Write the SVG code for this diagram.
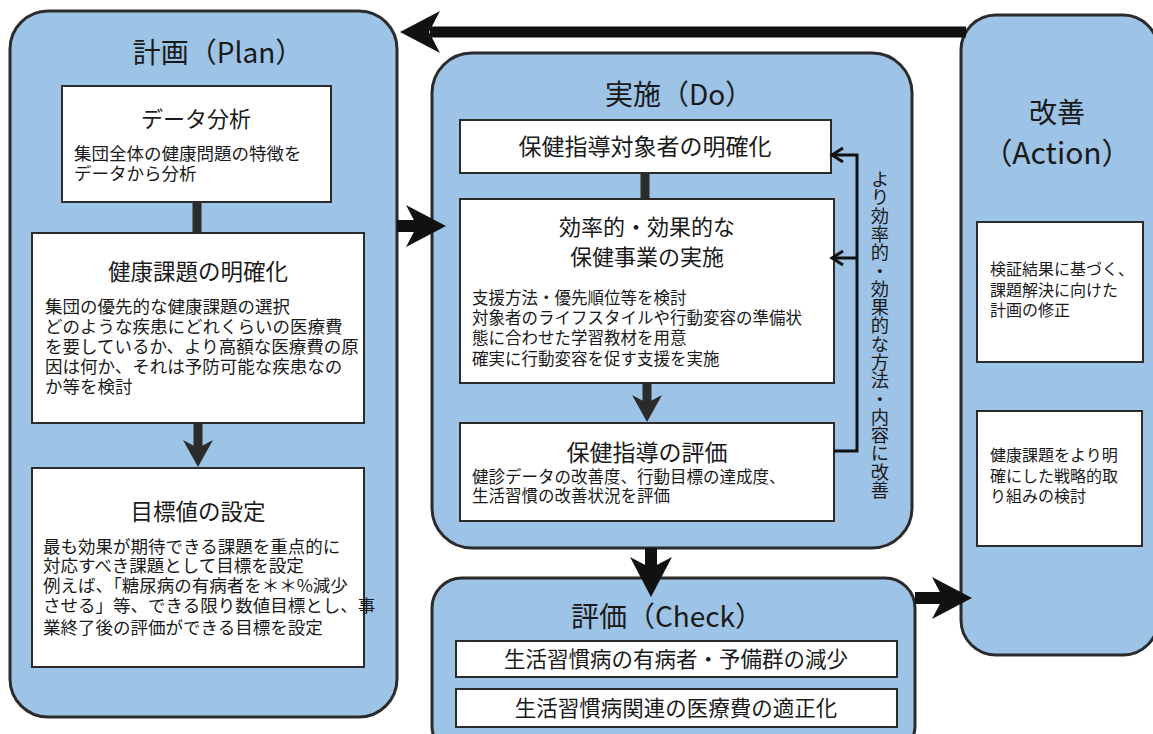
<svg xmlns="http://www.w3.org/2000/svg" xmlns:xlink="http://www.w3.org/1999/xlink" width="1153" height="734" viewBox="0 0 1153 734">
<style>
  text { font-family: "Noto Sans CJK JP", "Noto Sans", sans-serif; fill: #1a1a1a; }
  .phase { fill: #9dc3e6; stroke: #2b2b2b; stroke-width: 3; }
  .box { fill: #ffffff; stroke: #2b2b2b; stroke-width: 2; }
  .ptitle { font-size: 28px; text-anchor: middle; }
  .btitle { font-size: 22px; text-anchor: middle; }
  .body { font-size: 17.5px; }
  .bodys { font-size: 16.5px; }
  .abody { font-size: 16px; }
  .ctext { font-size: 21.5px; text-anchor: middle; }
  .link { stroke: #2b2b2b; stroke-width: 9; fill: none; }
  .big { stroke: #111111; stroke-width: 12; fill: none; }
  .fb { stroke: #111111; stroke-width: 3; fill: none; }
  .head { fill: #111111; }
  .shead { fill: #2b2b2b; }
  .vtext { font-size: 18.3px; writing-mode: vertical-rl; }
</style>
<defs>
  <path id="bighead" d="M0,0 L-40,-21 L-29,0 L-40,21 Z"/>
  <path id="smallhead" d="M0,0 L-27,-15 L-19,0 L-27,15 Z"/>
</defs>

<g id="plan">
  <rect class="phase" x="10" y="11" width="387" height="706" rx="38"/>
  <text class="ptitle" x="218" y="63">計画（Plan）</text>
</g>
<g id="data-analysis">
  <rect class="box" x="62" y="86" width="269" height="116"/>
  <text class="btitle" x="196" y="127">データ分析</text>
  <text class="body" x="74" y="160">集団全体の健康問題の特徴を</text>
  <text class="body" x="74" y="180">データから分析</text>
</g>
<g id="health-issue">
  <rect class="box" x="32" y="233" width="332" height="190"/>
  <text class="btitle" x="198" y="280" style="font-size:22.5px">健康課題の明確化</text>
  <text class="body" x="45" y="313">集団の優先的な健康課題の選択</text>
  <text class="body" x="45" y="333">どのような疾患にどれくらいの医療費</text>
  <text class="body" x="45" y="353">を要しているか、より高額な医療費の原</text>
  <text class="body" x="45" y="373">因は何か、それは予防可能な疾患なの</text>
  <text class="body" x="45" y="393">か等を検討</text>
</g>
<g id="target-setting">
  <rect class="box" x="32" y="468" width="332" height="199"/>
  <text class="btitle" x="198" y="520" style="font-size:22.5px">目標値の設定</text>
  <text class="body" x="43" y="553">最も効果が期待できる課題を重点的に</text>
  <text class="body" x="43" y="572">対応すべき課題として目標を設定</text>
  <text class="body" x="43" y="592">例えば、「糖尿病の有病者を＊＊%減少</text>
  <text class="body" x="43" y="612">させる」等、できる限り数値目標とし、事</text>
  <text class="body" x="43" y="634">業終了後の評価ができる目標を設定</text>
</g>

<g id="do">
  <rect class="phase" x="432" y="53" width="480" height="495" rx="40"/>
  <text class="ptitle" x="679" y="105">実施（Do）</text>
</g>
<g id="target-persons">
  <rect class="box" x="460" y="120" width="371" height="53"/>
  <text class="btitle" x="645" y="155" style="font-size:23px">保健指導対象者の明確化</text>
</g>
<g id="implementation">
  <rect class="box" x="460" y="199" width="374" height="184"/>
  <text class="btitle" x="647" y="235">効率的・効果的な</text>
  <text class="btitle" x="647" y="265">保健事業の実施</text>
  <text class="bodys" x="472" y="304">支援方法・優先順位等を検討</text>
  <text class="bodys" x="472" y="324">対象者のライフスタイルや行動変容の準備状</text>
  <text class="bodys" x="472" y="344">態に合わせた学習教材を用意</text>
  <text class="bodys" x="472" y="365">確実に行動変容を促す支援を実施</text>
</g>
<g id="guidance-eval">
  <rect class="box" x="460" y="423" width="374" height="98"/>
  <text class="btitle" x="647" y="461" style="font-size:23px">保健指導の評価</text>
  <text class="bodys" x="472" y="483">健診データの改善度、行動目標の達成度、</text>
  <text class="bodys" x="472" y="502">生活習慣の改善状況を評価</text>
</g>
<g id="improve-label">
  <text class="vtext" x="880" y="170">より効率的・効果的な方法・内容に改善</text>
</g>

<g id="check">
  <rect class="phase" x="432" y="578" width="483" height="178" rx="30"/>
  <text class="ptitle" x="667" y="627">評価（Check）</text>
</g>
<g id="check-1">
  <rect class="box" x="456" y="641" width="441" height="36"/>
  <text class="ctext" x="676" y="667">生活習慣病の有病者・予備群の減少</text>
</g>
<g id="check-2">
  <rect class="box" x="456" y="689" width="441" height="38"/>
  <text class="ctext" x="676" y="716">生活習慣病関連の医療費の適正化</text>
</g>

<g id="action">
  <rect class="phase" x="961" y="15" width="197" height="640" rx="35"/>
  <text class="ptitle" x="1057" y="123">改善</text>
  <text class="ptitle" x="1057" y="164" style="font-size:30px">（Action）</text>
</g>
<g id="action-1">
  <rect class="box" x="977" y="222" width="166" height="140"/>
  <text class="abody" x="990" y="275">検証結果に基づく、</text>
  <text class="abody" x="990" y="296">課題解決に向けた</text>
  <text class="abody" x="990" y="316">計画の修正</text>
</g>
<g id="action-2">
  <rect class="box" x="977" y="411" width="165" height="135"/>
  <text class="abody" x="990" y="461">健康課題をより明</text>
  <text class="abody" x="990" y="482">確にした戦略的取</text>
  <text class="abody" x="990" y="502">り組みの検討</text>
</g>

<g id="connectors">
  <line class="link" x1="197" y1="202" x2="197" y2="233"/>
  <line class="link" x1="198" y1="423" x2="198" y2="450"/>
  <use href="#smallhead" class="shead" transform="translate(198,467) rotate(90)"/>
  <line class="link" x1="645" y1="173" x2="645" y2="199"/>
  <line class="link" x1="647" y1="383" x2="647" y2="405"/>
  <use href="#smallhead" class="shead" transform="translate(647,422) rotate(90)"/>

  <path class="fb" d="M834,451 H857 V155 H833"/>
  <line class="fb" x1="857" y1="258" x2="833" y2="258"/>
  <path class="fb" d="M843,148 L832,155 L843,162"/>
  <path class="fb" d="M843,251 L832,258 L843,265"/>

  <line class="big" x1="966" y1="32" x2="430" y2="32" style="stroke-width:11"/>
  <use href="#bighead" class="head" transform="translate(400,32) rotate(180)"/>

  <line class="big" x1="397" y1="226" x2="420" y2="226"/>
  <use href="#bighead" class="head" transform="translate(446,226)"/>

  <line class="big" x1="651" y1="548" x2="651" y2="572"/>
  <use href="#bighead" class="head" transform="translate(651,597) rotate(90)"/>

  <line class="big" x1="915" y1="598" x2="945" y2="598"/>
  <use href="#bighead" class="head" transform="translate(972,598)"/>
</g>
</svg>
